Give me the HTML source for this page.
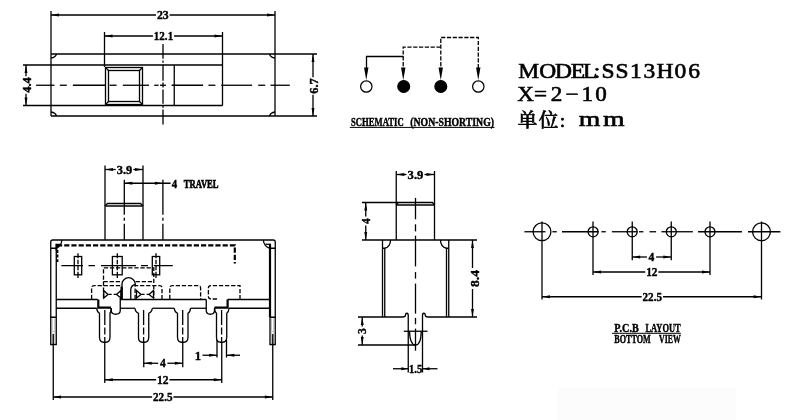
<!DOCTYPE html>
<html lang="zh">
<head>
<meta charset="utf-8">
<title>SS13H06 slide switch drawing</title>
<style>
html,body{margin:0;padding:0;background:#fff;}
body{width:800px;height:420px;overflow:hidden;}
svg{display:block;will-change:transform;}
.l{stroke:#000;stroke-width:1.3;fill:none;}
.k{stroke:#000;stroke-width:2.2;fill:none;}
.g{stroke:#8a8a8a;stroke-width:0.6;fill:none;}
.a{fill:#000;stroke:none;}
.c{font-family:"Liberation Serif","Noto Serif CJK SC",serif;font-weight:bold;fill:#000;stroke:#000;stroke-width:0.65;}
.d{font-family:"Liberation Serif","Noto Serif CJK SC",serif;font-weight:bold;fill:#000;stroke:#000;stroke-width:0.4;}
.t{font-family:"Liberation Serif","Noto Serif CJK SC",serif;font-weight:bold;fill:#000;stroke:#000;stroke-width:0.45;}
.m{font-family:"Liberation Serif","Noto Serif CJK SC",serif;fill:#000;stroke:#000;stroke-width:0.6;}
</style>
</head>
<body>
<svg width="800" height="420" viewBox="0 0 800 420">
<rect width="800" height="420" fill="#fff"/>
<rect x="558" y="388" width="178" height="32" fill="#fcfcfc"/>
<g id="topview">
<line class="l" x1="51.0" y1="11" x2="51.0" y2="116"/>
<line class="l" x1="275.0" y1="11" x2="275.0" y2="116"/>
<line class="l" x1="51" y1="54.0" x2="317" y2="54.0"/>
<line class="l" x1="51" y1="116.0" x2="317" y2="116.0"/>
<path class="l" d="M51,58Q55.5,57.5,56.5,54"/>
<path class="l" d="M275,58Q270.5,57.5,269.5,54"/>
<path class="l" d="M51,112Q55.5,112.5,56.5,116"/>
<path class="l" d="M275,112Q270.5,112.5,269.5,116"/>
<line class="l" x1="51" y1="15.0" x2="156.0" y2="15.0"/>
<line class="l" x1="169.60000000000002" y1="15.0" x2="275" y2="15.0"/>
<polygon class="a" points="51,15.0 59,13.55 59,16.45"/>
<polygon class="a" points="275,15.0 267,13.55 267,16.45"/>
<text class="d" font-size="12.6" text-anchor="middle" textLength="11.8" lengthAdjust="spacingAndGlyphs" x="162.8" y="19.2">23</text>
<line class="l" x1="104.5" y1="32" x2="104.5" y2="67"/>
<line class="l" x1="222.5" y1="32" x2="222.5" y2="105.5"/>
<line class="l" x1="104.5" y1="36.0" x2="152.95" y2="36.0"/>
<line class="l" x1="174.05" y1="36.0" x2="222.5" y2="36.0"/>
<polygon class="a" points="104.5,36.0 112.5,34.55 112.5,37.45"/>
<polygon class="a" points="222.5,36.0 214.5,34.55 214.5,37.45"/>
<text class="d" font-size="12.6" text-anchor="middle" textLength="19.3" lengthAdjust="spacingAndGlyphs" x="163.5" y="40.2">12.1</text>
<line class="l" x1="23" y1="65.0" x2="222.5" y2="65.0"/>
<line class="l" x1="23" y1="105.5" x2="222.5" y2="105.5"/>
<line class="l" x1="174.25" y1="65" x2="174.25" y2="105.5"/>
<rect class="l" x="105.5" y="67.5" width="37" height="37"/>
<rect class="l" x="108.5" y="70.5" width="31" height="31"/>
<line class="l" x1="105.5" y1="67.5" x2="108.5" y2="70.5"/>
<line class="l" x1="142.5" y1="67.5" x2="139.5" y2="70.5"/>
<line class="l" x1="105.5" y1="104.5" x2="108.5" y2="101.5"/>
<line class="l" x1="142.5" y1="104.5" x2="139.5" y2="101.5"/>
<line class="l" x1="26.0" y1="65" x2="26.0" y2="76.35"/>
<line class="l" x1="26.0" y1="93.65" x2="26.0" y2="105.5"/>
<polygon class="a" points="26.0,65 24.55,73 27.45,73"/>
<polygon class="a" points="26.0,105.5 24.55,97.5 27.45,97.5"/>
<text class="d" font-size="12.6" text-anchor="middle" textLength="15.5" lengthAdjust="spacingAndGlyphs" transform="translate(30.7,85) rotate(-90)">4.4</text>
<line class="l" x1="313.0" y1="54" x2="313.0" y2="77.35"/>
<line class="l" x1="313.0" y1="94.65" x2="313.0" y2="116"/>
<polygon class="a" points="313.0,54 311.55,62 314.45,62"/>
<polygon class="a" points="313.0,116 311.55,108 314.45,108"/>
<text class="d" font-size="12.6" text-anchor="middle" textLength="15.5" lengthAdjust="spacingAndGlyphs" transform="translate(318.2,86) rotate(-90)">6.7</text>
<line class="l" x1="36.1" y1="85.25" x2="54.5" y2="85.25"/>
<line class="l" x1="59.8" y1="85.25" x2="66.8" y2="85.25"/>
<line class="l" x1="72.9" y1="85.25" x2="105.2" y2="85.25"/>
<line class="l" x1="109.6" y1="85.25" x2="116.6" y2="85.25"/>
<line class="l" x1="122.8" y1="85.25" x2="149" y2="85.25"/>
<line class="l" x1="154.2" y1="85.25" x2="158.6" y2="85.25"/>
<line class="l" x1="160" y1="85.25" x2="166" y2="85.25"/>
<line class="l" x1="171.6" y1="85.25" x2="203.1" y2="85.25"/>
<line class="l" x1="208.4" y1="85.25" x2="215.4" y2="85.25"/>
<line class="l" x1="221.2" y1="85.25" x2="252.1" y2="85.25"/>
<line class="l" x1="258.2" y1="85.25" x2="265.2" y2="85.25"/>
<line class="l" x1="270.5" y1="85.25" x2="289.8" y2="85.25"/>
<line class="l" x1="163.0" y1="44.1" x2="163.0" y2="58.8"/>
<line class="l" x1="163.0" y1="60.6" x2="163.0" y2="62.8"/>
<line class="l" x1="163.0" y1="64.7" x2="163.0" y2="80.7"/>
<line class="l" x1="163.0" y1="82.5" x2="163.0" y2="87.6"/>
<line class="l" x1="163.0" y1="89.5" x2="163.0" y2="103.7"/>
<line class="l" x1="163.0" y1="105.5" x2="163.0" y2="107.7"/>
<line class="l" x1="163.0" y1="109.4" x2="163.0" y2="124.6"/>
</g>
<g id="schematic">
<circle cx="366.3" cy="86.5" r="5.7" fill="#fff" stroke="#000" stroke-width="1.25"/>
<circle cx="403.7" cy="86.5" r="5.9" fill="#000" stroke="#000" stroke-width="1.25"/>
<circle cx="440.8" cy="86.5" r="5.9" fill="#000" stroke="#000" stroke-width="1.25"/>
<circle cx="478.3" cy="86.5" r="5.7" fill="#fff" stroke="#000" stroke-width="1.25"/>
<path class="l" d="M403.5,56.5H366.5V72"/>
<path class="l" stroke-dasharray="4.2 1.6" d="M403.2,72 V47.2 H440.8"/>
<path class="l" stroke-dasharray="4.2 1.6" d="M440.8,72 V37.5 H478.3 V72"/>
<polygon class="a" points="366.25,80.3 364.05,67.5 368.45,67.5"/>
<polygon class="a" points="403.25,80.3 401.05,67.5 405.45,67.5"/>
<polygon class="a" points="440.75,80.3 438.55,67.5 442.95,67.5"/>
<polygon class="a" points="478.25,80.3 476.05,67.5 480.45,67.5"/>
<text class="t" font-size="12.3" text-anchor="start" textLength="52.7" lengthAdjust="spacingAndGlyphs" x="351" y="126.1">SCHEMATIC</text>
<text class="t" font-size="12.3" text-anchor="start" textLength="83.7" lengthAdjust="spacingAndGlyphs" x="410.3" y="126.1">(NON-SHORTING)</text>
<line x1="349.8" y1="127.4" x2="494.5" y2="127.4" stroke="#000" stroke-width="1"/>
</g>
<g id="model">
<text class="m" transform="translate(518,78.4) scale(1.12,1)" font-size="21" x="0.25 19.01 32.95 47.04 58.07 67.59 74.46 87.02 100.08 112.11 123.61 139.71 152.03">MODEL:SS13H06</text>
<text class="m" transform="translate(518,101.3) scale(1.1,1)" font-size="21" x="-0.74 14.44 29.85 43.08 57.8 70.32">X=2−10</text>
<text class="m" x="517.8" y="126.8" font-size="19.6" style="font-weight:500" textLength="47.5" lengthAdjust="spacing">单位:</text>
<text class="m" transform="translate(518,126.4) scale(1.32,1)" font-size="21" x="46.08 64.43">mm</text>
</g>
<g id="frontview">
<path class="l" d="M105,239.75V206L107.5,203.5H140.5L143,206V239.75"/>
<line class="l" x1="105.5" y1="206.0" x2="142.5" y2="206.0"/>
<line class="l" x1="105.0" y1="165.5" x2="105.0" y2="206"/>
<line class="l" x1="143.0" y1="165.5" x2="143.0" y2="206"/>
<line class="l" x1="105" y1="169.5" x2="115.7" y2="169.5"/>
<line class="l" x1="133.3" y1="169.5" x2="143" y2="169.5"/>
<polygon class="a" points="105,169.5 113,168.05 113,170.95"/>
<polygon class="a" points="143,169.5 135,168.05 135,170.95"/>
<text class="d" font-size="12.6" text-anchor="middle" textLength="15.5" lengthAdjust="spacingAndGlyphs" x="124.5" y="173.7">3.9</text>
<line class="l" stroke-dasharray="35 3 3 3 40" x1="124.3" y1="179.8" x2="124.3" y2="239.8"/>
<line class="l" stroke-dasharray="35 3 3 3 40" x1="162.9" y1="179.8" x2="162.9" y2="239.8"/>
<line class="l" x1="124.3" y1="183.25" x2="170.6" y2="183.25"/>
<polygon class="a" points="124.3,183.25 132.3,181.8 132.3,184.7"/>
<polygon class="a" points="162.9,183.25 154.9,181.8 154.9,184.7"/>
<text class="d" font-size="12.9" text-anchor="start" textLength="5.4" lengthAdjust="spacingAndGlyphs" x="171.8" y="188.1">4</text>
<text class="c" font-size="12.7" text-anchor="start" textLength="34.8" lengthAdjust="spacingAndGlyphs" x="183.8" y="187.9">TRAVEL</text>
<path class="l" d="M50.75,317.25V242Q50.75,240,52.75,240H273.25Q275.25,240,275.25,242V317.25"/>
<line class="l" x1="56.25" y1="248.2" x2="56.25" y2="317.3"/>
<path class="l" d="M62,240Q61,247,55.75,248.25H50.75"/>
<line class="k" x1="270" y1="244.3" x2="270" y2="317.3"/>
<path class="l" d="M263.25,240Q264.25,247,270,248.25H275.25"/>
<line class="l" x1="265.4" y1="244.25" x2="271" y2="244.25"/>
<path class="a" d="M55.4,243.8 H60.8 Q59.5,247 57.6,248 L57.2,250.5 H55.4 Z"/>
<path class="l" d="M50.75,317.25H56.25V344.5H50.75Z"/>
<line class="g" x1="52.1" y1="318.5" x2="52.1" y2="330.5"/>
<line class="g" x1="52.1" y1="332.5" x2="52.1" y2="343.5"/>
<line class="g" x1="54.800000000000004" y1="318.5" x2="54.800000000000004" y2="330.5"/>
<line class="g" x1="54.800000000000004" y1="332.5" x2="54.800000000000004" y2="343.5"/>
<line class="g" x1="51.7" y1="331.3" x2="55.2" y2="331.3"/>
<line class="l" x1="53.25" y1="334" x2="53.25" y2="400"/>
<path class="l" d="M270,317.25H275.25V344.5H270Z"/>
<line class="g" x1="271.4" y1="318.5" x2="271.4" y2="330.5"/>
<line class="g" x1="271.4" y1="332.5" x2="271.4" y2="343.5"/>
<line class="g" x1="273.8" y1="318.5" x2="273.8" y2="330.5"/>
<line class="g" x1="273.8" y1="332.5" x2="273.8" y2="343.5"/>
<line class="g" x1="271" y1="331.3" x2="274.2" y2="331.3"/>
<line class="l" x1="272.75" y1="334" x2="272.75" y2="400"/>
<path class="k" stroke-dasharray="5.2 2" d="M57,245.3 H234.8 V263.5"/>
<line class="k" stroke-dasharray="3 1.6" x1="57.3" y1="250" x2="57.3" y2="262"/>
<rect class="l" x="74.3" y="256.5" width="7.4" height="18.3"/>
<line class="l" stroke-dasharray="5 1.5 4.5 1.5 4.5 1.5 7" x1="78" y1="253.3" x2="78" y2="278"/>
<rect class="l" x="112.39999999999999" y="256.5" width="9.8" height="18.3"/>
<line class="l" stroke-dasharray="5 1.5 4.5 1.5 4.5 1.5 7" x1="117.3" y1="253.3" x2="117.3" y2="278"/>
<rect class="l" x="152.3" y="256.5" width="7.4" height="18.3"/>
<line class="l" stroke-dasharray="5 1.5 4.5 1.5 4.5 1.5 7" x1="156" y1="253.3" x2="156" y2="278"/>
<line class="l" stroke-dasharray="21.6 5.5 6.5 6 35 5 7 5.8 19" x1="61.4" y1="265.7" x2="172.8" y2="265.7"/>
<path class="l" stroke-dasharray="4.3 1.8" d="M103.5,298 V267.8 H153.8 V298"/>
<line class="l" stroke-dasharray="4.3 1.8" x1="103.5" y1="281.7" x2="122" y2="281.7"/>
<line class="l" stroke-dasharray="4.3 1.8" x1="135.6" y1="281.7" x2="153.8" y2="281.7"/>
<path class="l" d="M122,299.25V283.75A6.65,6.65,0,0,1,135.25,283.75V284.5Q131.25,285.25,130.75,289.5V299.25"/>
<line class="k" x1="121.6" y1="286.7" x2="121.6" y2="299.2"/>
<path class="l" stroke-dasharray="4.3 1.8" d="M91.6,299 V288 Q91.6,285.6 94.0,285.6 H119.19999999999999 Q121.6,285.6 121.6,288 V299"/>
<path class="l" stroke-dasharray="4.3 1.8" d="M169.8,299 V288 Q169.8,285.6 172.20000000000002,285.6 H198.2 Q200.6,285.6 200.6,288 V299"/>
<path class="l" stroke-dasharray="4.3 1.8" d="M135.1,299 V285.6 H159.6 Q162,285.6 162,288 V299"/>
<path class="l" stroke-dasharray="4.3 1.8" d="M217,299 H210.8 Q208.4,299 208.4,296.6 V288 Q208.4,285.6 210.8,285.6 H240 V299"/>
<path class="l" d="M103.75,290.5V298L108,294.5Z"/>
<path class="l" d="M121,290.5V298L116.5,294.5Z"/>
<path class="l" d="M136.5,290.5V298L141,294.5Z"/>
<path class="l" d="M153.5,290.5V298L149,294.5Z"/>
<line class="l" stroke-dasharray="3.4 2" x1="108.3" y1="294.4" x2="116.2" y2="294.4"/>
<line class="l" stroke-dasharray="3.4 2" x1="141.2" y1="294.4" x2="149" y2="294.4"/>
<line class="l" x1="56.3" y1="299.5" x2="97.8" y2="299.5"/>
<line class="l" x1="56.3" y1="308.25" x2="96.8" y2="308.25"/>
<path class="k" d="M98.3,299.4 V307.7 H111"/>
<path class="l" d="M111.25,308V310.5Q111.25,314.25,115.75,314.25Q120.25,314.25,120.25,310.5V298"/>
<line class="l" x1="120.2" y1="299.5" x2="206.3" y2="299.5"/>
<line class="l" x1="120.2" y1="308.25" x2="135" y2="308.25"/>
<line class="l" x1="152.3" y1="308.25" x2="174.3" y2="308.25"/>
<line class="l" x1="190.5" y1="308.25" x2="206.3" y2="308.25"/>
<path class="l" d="M206.25,299.5V310.5Q206.25,314.25,210.25,314.25Q214.5,314.25,214.5,310.5V308"/>
<path class="k" d="M214.4,307.7 H227.6 V299.4"/>
<line class="l" x1="227.6" y1="299.5" x2="269" y2="299.5"/>
<line class="l" x1="229" y1="308.25" x2="269" y2="308.25"/>
<path class="l" d="M96.75,308.25Q97,312,99.5,313.25V337.25Q99.75,342.25,103.5,342.25H106Q109.75,342.25,110,337.25V313.25Q111,312,111.25,308.25"/>
<line class="l" stroke-dasharray="15 2.5 7 2.5" x1="104.8" y1="310" x2="104.8" y2="342"/>
<path class="l" d="M135,308.25Q135.25,312,138.5,313.25V337.25Q138.5,342.25,142.5,342.25H144.75Q148.5,342.25,148.75,337.25V313.25Q152,312,152.25,308.25"/>
<line class="l" stroke-dasharray="15 2.5 7 2.5" x1="143.6" y1="310" x2="143.6" y2="342"/>
<path class="l" d="M174.25,308.25Q174.5,312,177.5,313.25V337.25Q177.75,342.25,181.5,342.25H184Q187.75,342.25,188,337.25V313.25Q190.25,312,190.5,308.25"/>
<line class="l" stroke-dasharray="15 2.5 7 2.5" x1="182.7" y1="310" x2="182.7" y2="342"/>
<path class="l" d="M214.5,308.25Q214.75,312,216.5,313.25V337.25Q216.5,342.25,220.5,342.25H222.75Q226.5,342.25,226.75,337.25V313.25Q228.75,312,229,308.25"/>
<line class="l" stroke-dasharray="15 2.5 7 2.5" x1="221.6" y1="310" x2="221.6" y2="342"/>
<line class="l" x1="104.75" y1="342.7" x2="104.75" y2="383"/>
<line class="l" x1="221.75" y1="342.7" x2="221.75" y2="383"/>
<line class="l" x1="143.75" y1="342.7" x2="143.75" y2="367.2"/>
<line class="l" x1="182.75" y1="342.7" x2="182.75" y2="367.2"/>
<line class="l" x1="217.0" y1="340" x2="217.0" y2="357.5"/>
<line class="l" x1="226.5" y1="340" x2="226.5" y2="357.5"/>
<line class="l" x1="143.7" y1="363.25" x2="158.20000000000002" y2="363.25"/>
<line class="l" x1="167.4" y1="363.25" x2="182.8" y2="363.25"/>
<polygon class="a" points="143.7,363.25 151.7,361.8 151.7,364.7"/>
<polygon class="a" points="182.8,363.25 174.8,361.8 174.8,364.7"/>
<text class="d" font-size="12.6" text-anchor="middle" textLength="5.8" lengthAdjust="spacingAndGlyphs" x="162.8" y="367.4">4</text>
<line class="l" x1="104.8" y1="379.75" x2="156.15" y2="379.75"/>
<line class="l" x1="169.45000000000002" y1="379.75" x2="221.8" y2="379.75"/>
<polygon class="a" points="104.8,379.75 112.8,378.3 112.8,381.2"/>
<polygon class="a" points="221.8,379.75 213.8,378.3 213.8,381.2"/>
<text class="d" font-size="12.6" text-anchor="middle" textLength="11.5" lengthAdjust="spacingAndGlyphs" x="162.8" y="384.0">12</text>
<line class="l" x1="53" y1="397.0" x2="152.15" y2="397.0"/>
<line class="l" x1="173.45000000000002" y1="397.0" x2="272.9" y2="397.0"/>
<polygon class="a" points="53,397.0 61,395.55 61,398.45"/>
<polygon class="a" points="272.9,397.0 264.9,395.55 264.9,398.45"/>
<text class="d" font-size="12.6" text-anchor="middle" textLength="19.5" lengthAdjust="spacingAndGlyphs" x="162.8" y="401.2">22.5</text>
<line class="l" x1="202.5" y1="355.25" x2="217.1" y2="355.25"/>
<polygon class="a" points="217.1,355.25 209.1,353.8 209.1,356.7"/>
<line class="l" x1="226.4" y1="355.25" x2="240" y2="355.25"/>
<polygon class="a" points="226.4,355.25 234.4,353.8 234.4,356.7"/>
<text class="d" font-size="12.6" text-anchor="middle" x="197.8" y="359.5">1</text>
</g>
<g id="sideview">
<path class="l" d="M396.25,240V205L398.25,202.5H432.5L434.5,205V240"/>
<line class="l" x1="396.8" y1="205.0" x2="434" y2="205.0"/>
<line class="l" x1="396.25" y1="171" x2="396.25" y2="205"/>
<line class="l" x1="434.5" y1="171" x2="434.5" y2="205"/>
<line class="l" x1="396.3" y1="174.5" x2="406.5" y2="174.5"/>
<line class="l" x1="424.5" y1="174.5" x2="434.5" y2="174.5"/>
<polygon class="a" points="396.3,174.5 404.3,173.05 404.3,175.95"/>
<polygon class="a" points="434.5,174.5 426.5,173.05 426.5,175.95"/>
<text class="d" font-size="12.6" text-anchor="middle" textLength="15.8" lengthAdjust="spacingAndGlyphs" x="415.5" y="178.7">3.9</text>
<line class="l" x1="362" y1="202.5" x2="398.3" y2="202.5"/>
<line class="l" x1="362" y1="240.0" x2="477" y2="240.0"/>
<line class="l" x1="365.75" y1="202.5" x2="365.75" y2="216.4"/>
<line class="l" x1="365.75" y1="225.6" x2="365.75" y2="240"/>
<polygon class="a" points="365.75,202.5 364.3,210.5 367.2,210.5"/>
<polygon class="a" points="365.75,240 364.3,232 367.2,232"/>
<text class="d" font-size="12.6" text-anchor="middle" textLength="5.8" lengthAdjust="spacingAndGlyphs" transform="translate(370.0,221) rotate(-90)">4</text>
<path class="l" d="M382.5,317V240"/>
<path class="l" d="M384.75,317V248"/>
<path class="l" d="M448.75,317V240"/>
<path class="l" d="M446.5,317V248"/>
<path class="l" d="M390.5,240Q390.5,246.75,384.75,248.25H382.5"/>
<path class="l" d="M440.5,240Q440.5,246.75,446.5,248.25H448.75"/>
<path class="l" d="M358,317H402.5Q405.5,317,405.5,315Q405.5,313.25,407,313.25Q408.25,313.25,408.25,315.5V372.5"/>
<path class="l" d="M477,317H428Q425.25,317,425.25,315Q425.25,313.25,423.75,313.25Q422.5,313.25,422.5,315.5V372.5"/>
<line class="l" x1="403.8" y1="331.25" x2="427.5" y2="331.25"/>
<path class="l" d="M409.5,331.25Q410,345,415.5,345Q421,345,421.25,331.25"/>
<line class="l" x1="415.5" y1="197.9" x2="415.5" y2="219.3"/>
<line class="l" x1="415.5" y1="224.3" x2="415.5" y2="231.4"/>
<line class="l" x1="415.5" y1="235.7" x2="415.5" y2="266.4"/>
<line class="l" x1="415.5" y1="272.1" x2="415.5" y2="278.6"/>
<line class="l" x1="415.5" y1="283.6" x2="415.5" y2="313.6"/>
<line class="l" x1="415.5" y1="317.9" x2="415.5" y2="324.3"/>
<line class="l" x1="415.5" y1="328.6" x2="415.5" y2="350.7"/>
<line class="l" x1="472.5" y1="240" x2="472.5" y2="268.0"/>
<line class="l" x1="472.5" y1="289.0" x2="472.5" y2="317"/>
<polygon class="a" points="472.5,240 471.05,248 473.95,248"/>
<polygon class="a" points="472.5,317 471.05,309 473.95,309"/>
<text class="d" font-size="12.6" text-anchor="middle" textLength="17" lengthAdjust="spacingAndGlyphs" transform="translate(478.5,278.5) rotate(-90)">8.4</text>
<line class="l" x1="358" y1="345.0" x2="415" y2="345.0"/>
<line class="l" x1="362.25" y1="317" x2="362.25" y2="326.6"/>
<line class="l" x1="362.25" y1="335.4" x2="362.25" y2="345"/>
<polygon class="a" points="362.25,317 360.8,325 363.7,325"/>
<polygon class="a" points="362.25,345 360.8,337 363.7,337"/>
<text class="d" font-size="12.6" text-anchor="middle" textLength="5.8" lengthAdjust="spacingAndGlyphs" transform="translate(365.59999999999997,331) rotate(-90)">3</text>
<line class="l" x1="393" y1="368.75" x2="408.3" y2="368.75"/>
<polygon class="a" points="408.3,368.75 401.3,367.3 401.3,370.2"/>
<line class="l" x1="422.5" y1="368.75" x2="437.5" y2="368.75"/>
<polygon class="a" points="422.5,368.75 429.5,367.3 429.5,370.2"/>
<text class="d" font-size="12.6" text-anchor="middle" textLength="13.2" lengthAdjust="spacingAndGlyphs" x="415.6" y="372.7">1.5</text>
</g>
<g id="pcb">
<circle class="l" cx="542" cy="231.8" r="8.9"/>
<line class="l" x1="542.0" y1="221.5" x2="542.0" y2="299.5"/>
<circle class="l" cx="761.5" cy="231.8" r="8.9"/>
<line class="l" x1="761.5" y1="221.5" x2="761.5" y2="299.5"/>
<circle class="l" cx="593.1" cy="231.8" r="5"/>
<line class="l" x1="593.0" y1="221.5" x2="593.0" y2="275"/>
<circle class="l" cx="632.2" cy="231.8" r="5"/>
<line class="l" x1="632.25" y1="221.5" x2="632.25" y2="260.3"/>
<circle class="l" cx="671.3" cy="231.8" r="5"/>
<line class="l" x1="671.25" y1="221.5" x2="671.25" y2="260.3"/>
<circle class="l" cx="710" cy="231.8" r="5"/>
<line class="l" x1="710.0" y1="221.5" x2="710.0" y2="275"/>
<line class="l" x1="524.4" y1="231.75" x2="545.5" y2="231.75"/>
<line class="l" x1="552.4" y1="231.75" x2="556.8" y2="231.75"/>
<line class="l" x1="562" y1="231.75" x2="598.5" y2="231.75"/>
<line class="l" x1="601.4" y1="231.75" x2="605.8" y2="231.75"/>
<line class="l" x1="611.9" y1="231.75" x2="637.3" y2="231.75"/>
<line class="l" x1="639" y1="231.75" x2="643.4" y2="231.75"/>
<line class="l" x1="649.5" y1="231.75" x2="656.1" y2="231.75"/>
<line class="l" x1="661.4" y1="231.75" x2="692.9" y2="231.75"/>
<line class="l" x1="698.1" y1="231.75" x2="741.9" y2="231.75"/>
<line class="l" x1="748" y1="231.75" x2="780.4" y2="231.75"/>
<line class="l" x1="632.2" y1="257.0" x2="646.9" y2="257.0"/>
<line class="l" x1="656.1" y1="257.0" x2="671.3" y2="257.0"/>
<polygon class="a" points="632.2,257.0 640.2,255.55 640.2,258.45"/>
<polygon class="a" points="671.3,257.0 663.3,255.55 663.3,258.45"/>
<text class="d" font-size="12.6" text-anchor="middle" textLength="5.8" lengthAdjust="spacingAndGlyphs" x="651.5" y="261.2">4</text>
<line class="l" x1="593.1" y1="272.0" x2="645.25" y2="272.0"/>
<line class="l" x1="658.3499999999999" y1="272.0" x2="710" y2="272.0"/>
<polygon class="a" points="593.1,272.0 601.1,270.55 601.1,273.45"/>
<polygon class="a" points="710,272.0 702,270.55 702,273.45"/>
<text class="d" font-size="12.6" text-anchor="middle" textLength="11.3" lengthAdjust="spacingAndGlyphs" x="651.8" y="276.09999999999997">12</text>
<line class="l" x1="542" y1="296.75" x2="641.65" y2="296.75"/>
<line class="l" x1="662.9499999999999" y1="296.75" x2="761.5" y2="296.75"/>
<polygon class="a" points="542,296.75 550,295.3 550,298.2"/>
<polygon class="a" points="761.5,296.75 753.5,295.3 753.5,298.2"/>
<text class="d" font-size="12.6" text-anchor="middle" textLength="19.5" lengthAdjust="spacingAndGlyphs" x="652.3" y="301.0">22.5</text>
<text class="t" font-size="13.4" text-anchor="start" textLength="24.5" lengthAdjust="spacingAndGlyphs" x="614.3" y="331.9">P.C.B</text>
<text class="t" font-size="13.4" text-anchor="start" textLength="35.3" lengthAdjust="spacingAndGlyphs" x="645.4" y="331.9">LAYOUT</text>
<line x1="612" y1="333.3" x2="680.8" y2="333.3" stroke="#000" stroke-width="1"/>
<text class="t" font-size="13.4" text-anchor="start" textLength="36.5" lengthAdjust="spacingAndGlyphs" x="614.3" y="343">BOTTOM</text>
<text class="t" font-size="13.4" text-anchor="start" textLength="21.7" lengthAdjust="spacingAndGlyphs" x="659" y="343">VIEW</text>
</g>
</svg>
</body>
</html>
